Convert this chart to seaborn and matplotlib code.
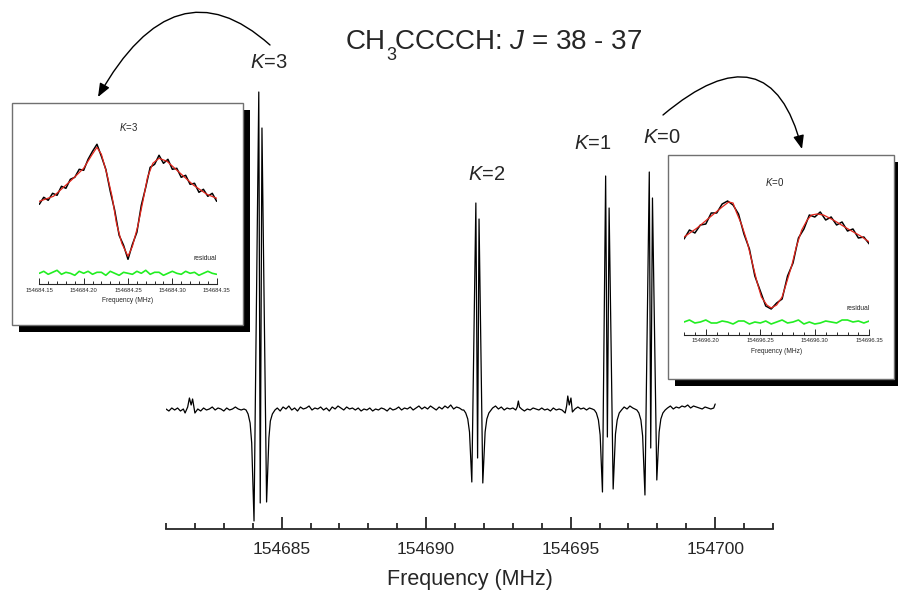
import matplotlib
matplotlib.use("Agg")
import pandas as pd
import seaborn as sns
import matplotlib.pyplot as plt
from matplotlib.patches import Rectangle, FancyArrowPatch
from matplotlib.path import Path
from matplotlib.ticker import MultipleLocator, FormatStrFormatter

############################ DATA #############################################

# main scan: (MHz above 154680, signal)
F0 = 154680.0
base_a = [(1.0, 1), (1.1, -1), (1.2, 2), (1.3, 0), (1.4, 2), (1.5, -1), (1.6, 1),
          (1.66, -3), (1.75, 3), (1.81, 12), (1.87, 5), (1.92, 11), (2.0, -3),
          (2.1, 1), (2.2, -1), (2.3, 2), (2.4, 0), (2.5, 1), (2.6, 3), (2.7, 0),
          (2.8, 2), (2.9, 1), (3.0, -1), (3.1, 2), (3.2, 0), (3.3, 1), (3.4, 3),
          (3.5, 1), (3.6, 0), (3.7, 1)]
k3_line = [(3.77, 0), (3.84, -4), (3.91, -13), (3.965, -33), (4.005, -72),
           (4.045, -111), (4.21, 318), (4.26, -93), (4.32, 282), (4.48, -92),
           (4.52, -60), (4.56, -28), (4.61, -11), (4.68, -4), (4.77, 0)]
base_b = [(4.85, 2), (4.95, -1), (5.05, 3), (5.15, 1), (5.25, 4), (5.35, 0),
          (5.45, 2), (5.55, -1), (5.65, 3), (5.75, 1), (5.85, 2), (5.95, 4),
          (6.05, 0), (6.15, 2), (6.25, 1), (6.35, 3), (6.45, 0), (6.55, 2),
          (6.65, -1), (6.75, 3), (6.85, 1), (6.95, 4), (7.05, 2), (7.15, 0),
          (7.25, 3), (7.35, 1), (7.45, 2), (7.55, 0), (7.65, 2), (7.75, -1),
          (7.85, 1), (7.95, 0), (8.05, 2), (8.15, -1), (8.25, 1), (8.35, 0),
          (8.45, 2), (8.55, 1), (8.65, -1), (8.75, 2), (8.85, 0), (8.95, 1),
          (9.05, 3), (9.15, 0), (9.25, 2), (9.35, 1), (9.45, 3), (9.55, 0),
          (9.65, 2), (9.75, 4), (9.85, 1), (9.95, 3), (10.05, 1), (10.15, 4),
          (10.25, 2), (10.35, 0), (10.45, 3), (10.55, 1), (10.65, 4), (10.75, 2),
          (10.85, 5), (10.95, 1), (11.05, 3), (11.15, 2), (11.25, 0)]
k2_line = [(11.30, 0), (11.37, -3), (11.44, -9), (11.50, -22), (11.54, -47),
           (11.58, -72), (11.72, 207), (11.78, -48), (11.83, 191), (11.96, -73),
           (12.00, -47), (12.04, -22), (12.10, -9), (12.17, -3), (12.25, 0)]
base_c = [(12.3, 2), (12.4, 4), (12.5, 1), (12.6, 3), (12.7, 0), (12.8, 2),
          (12.9, 1), (13.0, 2), (13.1, 0), (13.15, 3), (13.19, 9), (13.23, 3),
          (13.3, 1), (13.4, -1), (13.5, 1), (13.6, 0), (13.7, 2), (13.8, 1),
          (13.9, 0), (14.0, 2), (14.1, 0), (14.2, 1), (14.3, -1), (14.4, 2),
          (14.5, 0), (14.6, 1), (14.7, 0), (14.81, -3), (14.86, 4), (14.90, 14),
          (14.95, 5), (15.01, 12), (15.06, -2), (15.15, 1), (15.25, 3),
          (15.35, 1), (15.45, 2), (15.55, 0), (15.65, 2), (15.75, 1)]
k1_line = [(15.82, 0), (15.89, -3), (15.96, -10), (16.02, -25), (16.06, -54),
           (16.10, -82), (16.21, 234), (16.27, -27), (16.33, 202), (16.47, -79),
           (16.51, -52), (16.55, -24), (16.61, -10), (16.68, -3), (16.76, 0)]
base_d = [(16.85, 3), (16.95, 1), (17.05, 4), (17.15, 2), (17.22, 1)]
k0_line = [(17.29, 0), (17.36, -3), (17.43, -10), (17.49, -26), (17.53, -56),
           (17.57, -85), (17.72, 238), (17.77, -38), (17.83, 212), (17.98, -70),
           (18.02, -46), (18.06, -22), (18.12, -9), (18.19, -3), (18.27, 0)]
base_e = [(18.35, 2), (18.45, 4), (18.55, 1), (18.65, 3), (18.75, 2), (18.85, 4),
          (18.95, 3), (19.05, 5), (19.15, 2), (19.25, 4), (19.35, 3), (19.45, 2),
          (19.55, 1), (19.65, 3), (19.75, 2), (19.85, 1), (19.95, 2), (20.0, 6)]

main_ticks = [154685, 154690, 154695, 154700]

# K=3 zoom (MHz above 154684)
k3_fit_f = [.150, .166, .186, .200, .209, .215, .220, .226, .232, .237, .243, .250,
            .255, .261, .267, .272, .278, .285, .294, .309, .324, .339, .350]
k3_fit_v = [83, 88, 104, 116, 129, 137, 130, 111, 88, 61, 41, 28,
            38, 58, 84, 107, 121, 126, 123, 111, 99, 90, 86]
k3_scan_f = [.150, .155, .160, .165, .170, .175, .180, .185, .190, .195, .200,
             .205, .210, .215, .220, .225, .230, .235, .240, .245, .250,
             .255, .260, .265, .270, .275, .280, .285, .290, .295, .300,
             .305, .310, .315, .320, .325, .330, .335, .340, .345, .350]
k3_scan_v = [80, 87, 84, 91, 89, 98, 96, 105, 107, 115, 114,
             125, 133, 140, 128, 115, 93, 74, 49, 39, 25,
             40, 52, 79, 97, 117, 120, 129, 121, 125, 115,
             116, 107, 109, 100, 101, 92, 95, 88, 91, 83]
k3_resid = [11, 13, 10, 12, 14, 10, 12, 11, 9, 13, 11, 13, 10, 12, 12, 9, 13,
            11, 9, 12, 11, 10, 13, 11, 14, 10, 12, 12, 9, 11, 13, 11, 10, 13,
            11, 12, 9, 11, 13, 11, 10]
k3_ticks = [154684.15, 154684.20, 154684.25, 154684.30, 154684.35]

# K=0 zoom (MHz above 154696)
k0_fit_f = [.180, .192, .204, .215, .221, .225, .228, .233, .238, .242, .247,
            .251, .256, .260, .265, .270, .274, .279, .283, .288, .293, .297,
            .302, .308, .317, .329, .342, .350]
k0_fit_v = [98, 107, 118, 128, 133, 132, 123, 110, 93, 75, 53,
            38, 30, 27, 30, 38, 52, 70, 88, 105, 115, 120,
            121, 120, 115, 107, 99, 93]
k0_scan_f = [.180, .185, .190, .195, .200, .205, .210, .215, .220, .225, .230,
             .235, .240, .245, .250, .255, .260, .265, .270, .275, .280, .285,
             .290, .295, .300, .305, .310, .315, .320, .325, .330, .335, .340,
             .345, .350]
k0_scan_v = [96, 105, 102, 110, 111, 122, 122, 131, 134, 130, 121,
             101, 86, 59, 44, 29, 26, 32, 36, 59, 72, 97,
             106, 120, 118, 123, 115, 118, 110, 113, 104, 106, 97,
             98, 91]
k0_resid = [13, 15, 12, 13, 15, 12, 12, 14, 13, 11, 14, 14, 11, 13, 12, 14, 11,
            13, 15, 12, 13, 15, 11, 13, 11, 12, 14, 13, 12, 15, 15, 13, 14, 12, 14]
k0_ticks = [154696.20, 154696.25, 154696.30, 154696.35]

############################ FIGURE ###########################################

W, H = 898, 593


def fx(x):
    return x / W


def fy(y):
    return 1 - y / H


def trace(segments):
    pts = [p for seg in segments for p in seg]
    df = pd.DataFrame(pts, columns=["offset", "signal"])
    df["freq"] = F0 + df["offset"]
    return df


sns.set_style("white")
plt.rcParams["font.family"] = ["Liberation Sans", "DejaVu Sans"]
plt.rcParams["mathtext.fontset"] = "custom"
plt.rcParams["mathtext.rm"] = "Liberation Sans"
plt.rcParams["mathtext.it"] = "Liberation Sans:italic"

fig = plt.figure(figsize=(W / 100, H / 100), dpi=100)

# main spectrum
ax = fig.add_axes([fx(166), fy(529), (773 - 166) / W, (529 - 80) / H])
ax.set_zorder(0)
main = trace([base_a, k3_line, base_b, k2_line, base_c, k1_line, base_d, k0_line, base_e])
sns.lineplot(data=main, x="freq", y="signal", sort=False, estimator=None,
             color="black", lw=0.9, ax=ax)
ax.set_xlim(154681, 154702)
ax.set_ylim(-119, 330)
for s in ["left", "top", "right"]:
    ax.spines[s].set_visible(False)
ax.spines["bottom"].set_linewidth(1.3)
ax.set_yticks([])
ax.set_ylabel("")
ax.set_xticks(main_ticks)
ax.xaxis.set_minor_locator(MultipleLocator(1))
ax.xaxis.set_major_formatter(FormatStrFormatter("%d"))
ax.tick_params(axis="x", which="major", direction="in", length=9, width=1.3,
               labelsize=12.5, pad=9, bottom=True)
ax.tick_params(axis="x", which="minor", direction="in", length=4.5, width=1.3,
               bottom=True)
ax.set_xlabel("Frequency (MHz)", fontsize=15.5, labelpad=9)

# title, with the subscript dropped as in the original
fig.text(fx(386), fy(49), "CH", ha="right", va="baseline", fontsize=20)
fig.text(fx(386), fy(60), "3", ha="left", va="baseline", fontsize=13)
fig.text(fx(394), fy(49), r"CCCCH: $J$ = 38 - 37", ha="left", va="baseline", fontsize=20)
for lab, x, y in [("3", 269, 68), ("2", 486.7, 180), ("1", 593, 149), ("0", 661.5, 143)]:
    fig.text(fx(x), fy(y), r"$K$=" + lab, ha="center", va="baseline", fontsize=14.5)


def inset_box(x0, y0, x1, y1):
    fig.add_artist(Rectangle((fx(x0 + 7), fy(y1 + 7)), (x1 - x0) / W, (y1 - y0) / H,
                             transform=fig.transFigure, facecolor="black",
                             edgecolor="none", zorder=1.8))
    fig.add_artist(Rectangle((fx(x0), fy(y1)), (x1 - x0) / W, (y1 - y0) / H,
                             transform=fig.transFigure, facecolor="white",
                             edgecolor="#707070", lw=1.0, zorder=1.9))


def inset(x0, x1, ybot, ytop, base, scan_f, scan_v, fit_f, fit_v, resid, ticks):
    iax = fig.add_axes([fx(x0), fy(ybot), (x1 - x0) / W, (ybot - ytop) / H])
    iax.set_zorder(3)
    iax.patch.set_alpha(0)
    scan = pd.DataFrame({"freq": [base + f for f in scan_f], "v": scan_v, "r": resid})
    fit = pd.DataFrame({"freq": [base + f for f in fit_f], "v": fit_v})
    sns.lineplot(data=scan, x="freq", y="v", sort=False, estimator=None,
                 color="black", lw=1.1, ax=iax)
    sns.lineplot(data=fit, x="freq", y="v", sort=False, estimator=None,
                 color="#e3261c", lw=0.9, ax=iax)
    sns.lineplot(data=scan, x="freq", y="r", sort=False, estimator=None,
                 color="#22ee22", lw=1.2, ax=iax)
    iax.set_xlim(base + scan_f[0], base + scan_f[-1])
    iax.set_ylim(0, ybot - ytop)
    for s in ["left", "top", "right"]:
        iax.spines[s].set_visible(False)
    iax.spines["bottom"].set_linewidth(0.8)
    iax.set_yticks([])
    iax.set_ylabel("")
    iax.set_xticks(ticks)
    iax.xaxis.set_minor_locator(MultipleLocator(0.01))
    iax.xaxis.set_major_formatter(FormatStrFormatter("%.2f"))
    iax.tick_params(axis="x", which="major", direction="in", length=4, width=0.7,
                    labelsize=4.2, pad=2.5, bottom=True)
    iax.tick_params(axis="x", which="minor", direction="in", length=2, width=0.7,
                    bottom=True)
    iax.set_xlabel("Frequency (MHz)", fontsize=4.8, labelpad=3)
    return iax


inset_box(12, 103, 243, 325)
inset(39.3, 216.7, 284.3, 110, 154684.0, k3_scan_f, k3_scan_v, k3_fit_f, k3_fit_v,
      k3_resid, k3_ticks)
fig.text(fx(128.3), fy(127.3), r"$K$=3", ha="center", va="center", fontsize=7, zorder=4)
fig.text(fx(216.7), fy(258.3), "residual", ha="right", va="center", fontsize=4.8, zorder=4)

inset_box(668, 155, 894, 379)
inset(684, 869.3, 335, 165, 154696.0, k0_scan_f, k0_scan_v, k0_fit_f, k0_fit_v,
      k0_resid, k0_ticks)
fig.text(fx(775), fy(181.7), r"$K$=0", ha="center", va="center", fontsize=7, zorder=4)
fig.text(fx(869.3), fy(308.3), "residual", ha="right", va="center", fontsize=4.8, zorder=4)

# curved arrows from the line labels to the zoom panels
for p0, p1, p2 in [((270, 45), (175, -40), (98, 97)), ((663, 115), (770, 25), (802, 149))]:
    verts = [(fx(p[0]), fy(p[1])) for p in (p0, p1, p2)]
    arrow = FancyArrowPatch(path=Path(verts, [Path.MOVETO, Path.CURVE3, Path.CURVE3]),
                            arrowstyle="-|>,head_length=0.45,head_width=0.18",
                            mutation_scale=18, lw=1.0, color="black",
                            transform=fig.transFigure, zorder=5)
    fig.add_artist(arrow)

plt.savefig("out.png", dpi=100)
